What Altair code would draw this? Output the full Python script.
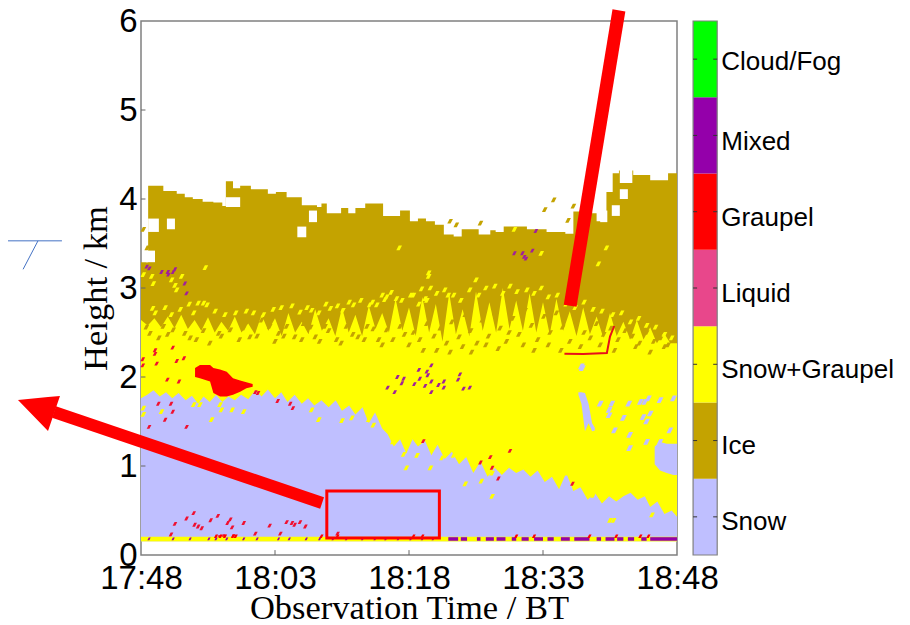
import altair as alt
import pandas as pd

# ---- axis labels / legend ----
time_ticks = [0, 15, 30, 45, 60]
time_labels = ['17:48', '18:03', '18:18', '18:33', '18:48']
height_ticks = [0, 1, 2, 3, 4, 5, 6]
classes = ['Snow', 'Ice', 'Snow+Graupel', 'Liquid', 'Graupel', 'Mixed', 'Cloud/Fog']
class_colors = ['#bfbfff', '#c4a300', '#ffff00', '#e8478b', '#ff0000', '#9400aa', '#00ff00']
label_h = [0.38, 1.24, 2.09, 2.94, 3.80, 4.65, 5.55]

# ---- region boundaries (minutes after 17:48, km) ----
ice_top_t = [0, 0.8, 2.5, 4.0, 4.9, 5.8, 6.9, 8.1, 9.1, 9.5, 10.3, 11.1, 12.3, 14.2, 15.1, 16.3, 18.0, 19.7, 20.2, 20.8,
             22.4, 23.2, 24.0, 25.1, 27.1, 29.0, 30.1, 31, 31.9, 32.9, 33.9, 35, 35.9, 37.8, 39.1, 39.7, 40.6, 43.2, 45.4,
             47.5, 48.4, 50.5, 51, 52.1, 52.8, 53.5, 55.1, 57, 59, 60]
ice_top_h = [3.29, 4.15, 4.09, 4.06, 4.02, 4.0, 3.97, 3.96, 3.92, 4.2, 4.12, 4.15, 4.11, 4.06, 4.08, 4.02, 3.93, 3.91, 3.95, 3.84,
             3.90, 3.84, 3.90, 3.95, 3.81, 3.87, 3.75, 3.78, 3.75, 3.71, 3.60, 3.58, 3.66, 3.60, 3.65, 3.63, 3.69, 3.66, 3.63,
             3.61, 3.86, 3.84, 3.75, 4.08, 4.29, 4.32, 4.27, 4.21, 4.29, 4.29]

# top of the Snow+Graupel region, read every 0.75 min
sg_top_h = [2.64, 2.58, 2.66, 2.56, 2.68, 2.55, 2.70, 2.54, 2.64, 2.52, 2.67, 2.50, 2.62, 2.52, 2.68, 2.50, 2.60, 2.48, 2.70, 2.52,
            2.66, 2.46, 2.72, 2.50, 2.62, 2.48, 2.76, 2.52, 2.66, 2.46, 2.78, 2.50, 2.70, 2.46, 2.80, 2.54, 2.72, 2.50, 2.88, 2.52,
            2.78, 2.46, 2.90, 2.50, 2.82, 2.40, 2.94, 2.48, 2.76, 2.46, 2.96, 2.52, 2.84, 2.50, 3.00, 2.54, 2.86, 2.52, 2.94, 2.50,
            2.84, 2.48, 2.88, 2.52, 2.74, 2.46, 2.78, 2.48, 2.68, 2.44, 2.72, 2.46, 2.62, 2.42, 2.64, 2.42, 2.56, 2.38, 2.50, 2.38, 2.38]
sg_top_t = [i * 0.75 for i in range(len(sg_top_h))]

snow_top_t = [0, 0.7, 1.4, 2.1, 2.8, 3.5, 4.2, 5, 5.7, 6.4, 7, 7.7, 8.4, 9.1, 9.8, 10.5, 11.2, 12, 12.8, 13.5, 14.2, 15, 15.7, 16.4,
              17.2, 18, 18.7, 19.4, 20.2, 21, 21.8, 22.5, 23.3, 24, 24.8, 25.5, 26.2, 27, 27.6, 28.3, 29, 29.7, 30.4, 31, 31.8, 32.5,
              33.2, 34, 34.8, 35.6, 36.4, 37.2, 38, 38.8, 39.6, 40.4, 41.2, 42, 42.8, 43.6, 44.4, 45.2, 46, 46.8, 47.6, 48.4, 49.2,
              50, 50.8, 51.6, 52.4, 53.2, 54, 54.8, 55.6, 56.4, 57, 57.8, 58.6, 59.4, 60]
snow_top_h = [1.76, 1.80, 1.85, 1.78, 1.83, 1.76, 1.82, 1.74, 1.79, 1.70, 1.78, 1.72, 1.80, 1.72, 1.78, 1.74, 1.80, 1.75, 1.85, 1.78, 1.86, 1.76, 1.83, 1.72,
              1.80, 1.70, 1.76, 1.68, 1.74, 1.66, 1.74, 1.62, 1.68, 1.58, 1.66, 1.48, 1.60, 1.42, 1.36, 1.22, 1.30, 1.14, 1.30, 1.22, 1.28, 1.12,
              1.24, 1.08, 1.16, 1.02, 1.10, 0.92, 1.05, 0.88, 0.98, 0.90, 0.98, 0.92, 0.96, 0.88, 0.95, 0.82, 0.88, 0.74, 0.92, 0.72, 0.76,
              0.62, 0.70, 0.58, 0.66, 0.60, 0.66, 0.70, 0.62, 0.66, 0.54, 0.60, 0.46, 0.50, 0.43]

# ---- blobs: time, low, high ----
graupel_blob_t = [6.05, 6.6, 7.73, 8.1, 8.85, 9.6, 10.3, 11.1, 11.8, 12.5]
graupel_blob_hi = [2.10, 2.135, 2.135, 2.10, 2.085, 2.06, 1.985, 1.96, 1.94, 1.92]
graupel_blob_lo = [2.00, 1.985, 1.95, 1.82, 1.78, 1.78, 1.80, 1.835, 1.875, 1.89]
snow_patch_a_t = [48.96, 49.3, 49.7, 50.1, 50.5, 50.8]
snow_patch_a_hi = [1.83, 1.83, 1.82, 1.70, 1.48, 1.43]
snow_patch_a_lo = [1.80, 1.70, 1.39, 1.48, 1.39, 1.40]
snow_patch_b_t = [57.5, 58.1, 58.85, 59.6, 60]
snow_patch_b_hi = [1.22, 1.27, 1.25, 1.25, 1.25]
snow_patch_b_lo = [1.02, 0.95, 0.92, 0.90, 0.90]

# gaps in the echo: t0, t1, h0, h1
gap_t0 = [0.8, 2.9, 17.5, 18.8, 0.56, 53.6, 52.7, 51.4, 53.6, 9.5]
gap_t1 = [2.0, 3.8, 18.5, 19.7, 1.57, 54.5, 53.6, 52.2, 55.0, 11.1]
gap_h0 = [3.63, 3.66, 3.57, 3.74, 3.29, 4.00, 3.81, 3.74, 4.18, 3.91]
gap_h1 = [3.78, 3.78, 3.69, 3.87, 3.42, 4.11, 3.93, 3.87, 4.33, 4.02]

# ---- small flecks ----
yellow_t = [0.26, 1.2, 1.38, 3.43, 3.8, 4.55, 4.0, 7.2, 1.3, 2.7, 6.4, 7.0, 5.4, 7.4, 27.5, 28.6, 27.3, 21.2, 22.6, 23.8, 25.6, 26.4,
            28.9, 13.7, 19.1, 17.8, 32.2, 32.2, 31.4, 32.4, 31.8, 34.4, 37.5, 44.8, 51.2, 52.1, 41.8, 30.5,
            1.6, 3.4, 4.4, 5.9, 8.3, 9.4, 10.6, 11.8, 12.6, 14.8, 15.7, 16.9, 18.6, 19.9, 20.7, 22, 23.3, 24.6, 25.9, 27, 28, 29.2,
            30.2, 31.1, 32, 33.1, 34, 35, 35.8, 36.8, 37.8, 38.6, 39.6, 40.5, 41.3, 42.1, 43.2, 44, 44.8, 45.6, 46.6, 47.6, 48.6,
            49.6, 50.6, 51.6, 52.8, 53.8, 54.8, 55.7, 56.6, 57.6, 58.6, 59.4]
yellow_h = [3.15, 3.13, 3.05, 3.09, 3.03, 3.13, 2.98, 3.23, 2.77, 2.78, 2.83, 2.83, 2.82, 2.81, 2.90, 2.88, 2.87, 2.77, 2.75, 2.81, 2.81, 2.81,
            3.45, 2.70, 2.75, 2.73, 3.17, 3.13, 2.99, 3.0, 2.88, 2.92, 3.09, 3.39, 3.27, 3.45, 3.66, 2.92,
            2.72, 2.70, 2.76, 2.72, 2.74, 2.70, 2.72, 2.74, 2.72, 2.76, 2.78, 2.80, 2.78, 2.72, 2.82, 2.80, 2.84, 2.86, 2.84, 2.92, 2.95, 2.86,
            2.92, 2.82, 2.86, 2.94, 2.98, 2.92, 2.86, 2.98, 2.92, 3.0, 3.02, 2.94, 3.02, 2.96, 2.98, 2.94, 3.0, 2.9, 2.92, 2.82, 2.78,
            2.84, 2.76, 2.74, 2.7, 2.72, 2.62, 2.66, 2.58, 2.56, 2.48, 2.44]
ice_fleck_t = [1.0, 2.5, 3.6, 4.9, 6.2, 7.7, 8.7, 10, 11.5, 12.2, 13.5, 14.4, 15.4, 16.3, 17.2, 18.2, 19.5, 20.6, 21.9, 23, 24.3, 25.3, 26.6, 27.5, 29,
               30.5, 31.2, 32, 32.8, 33.5, 34.2, 34.8, 35.6, 36.3, 36.9, 37.6, 38.2, 38.9, 39.6, 40.2, 40.9, 41.6, 42.3, 43, 43.7, 44.4, 45.1, 45.8,
               46.5, 47.2, 48, 48.8, 49.6, 50.3, 51, 51.8, 52.6, 53.4, 54.2, 55, 55.8, 56.6, 57.4, 58.2, 59,
               0.26, 0.7, 46.2, 45.2, 48.4, 47.8, 34.6, 35.3, 38.0,
               0.6, 2, 3, 5.5, 7, 9, 11, 13, 15, 16, 18, 19, 20, 21, 22.4, 23.7, 25, 26, 27, 28.2, 29.5, 30, 31.6, 33.1, 34.6, 36, 37, 38.6,
               40, 41.2, 42.8, 44, 45.6, 47, 49.2, 51.4, 53, 55.4, 57, 58.6]
ice_fleck_h = [2.49, 2.57, 2.53, 2.49, 2.42, 2.38, 2.49, 2.53, 2.55, 2.45, 2.64, 2.57, 2.49, 2.57, 2.45, 2.60, 2.45, 2.57, 2.42, 2.57, 2.45, 2.57, 2.42, 2.53, 2.57,
               2.50, 2.42, 2.60, 2.46, 2.55, 2.38, 2.62, 2.45, 2.70, 2.52, 2.38, 2.64, 2.46, 2.72, 2.55, 2.40, 2.66, 2.48, 2.75, 2.58, 2.42, 2.68, 2.50,
               2.72, 2.56, 2.40, 2.62, 2.50, 2.44, 2.60, 2.48, 2.55, 2.42, 2.52, 2.46, 2.38, 2.50, 2.40, 2.44, 2.36,
               3.66, 3.45, 3.99, 3.88, 3.92, 3.76, 3.75, 3.71, 3.73,
               2.56, 2.44, 2.48, 2.44, 2.52, 2.46, 2.42, 2.46, 2.40, 2.46, 2.42, 2.56, 2.40, 2.52, 2.38, 2.48, 2.42, 2.54, 2.36, 2.42, 2.48, 2.36, 2.30, 2.30, 2.28, 2.34, 2.28, 2.36,
               2.32, 2.50, 2.36, 2.30, 2.36, 2.30, 2.34, 2.36, 2.30, 2.34, 2.28, 2.34]
mixed_t = [0.64, 0.93, 2.3, 3.0, 3.6, 3.07, 3.8, 4.9, 5.1, 41.8, 42.7, 42.9, 43.1, 43.8, 44.2,
           32, 32.1, 31.1, 32.5, 31.2, 30.6, 31.8, 32.5, 32.5, 33.3, 33.9, 33.9, 35.5, 35.7, 36.1, 36.8, 28.7, 29.4, 29.2, 28.4, 27.6]
mixed_h = [3.24, 3.22, 3.18, 3.18, 3.18, 3.15, 3.21, 3.05, 2.94, 3.39, 3.39, 3.35, 3.33, 3.42, 3.64,
           2.06, 2.02, 2.08, 2.13, 1.98, 1.92, 1.90, 1.95, 1.83, 1.91, 1.95, 1.88, 1.97, 2.03, 1.87, 1.88, 2.0, 1.98, 1.93, 1.83, 1.88]
red_t = [1.57, 1.57, 3.55, 1.75, 4, 4.8, 0.2, 0.2, 2.95, 4.25, 1.94, 3.36, 3.55, 2.7, 0.9, 5.1, 12.8, 13.1, 15.3, 16.7, 17,
         5.9, 5.1, 3.8, 8.6, 7.8, 6, 6.4, 6.8, 10, 9.7, 10.2, 11.5, 14.4, 12.8, 3.36, 15.6, 16.3, 16.9, 17.2, 17.8, 18.4, 22,
         8.7, 9.2, 10.3, 31.6, 38, 39.1, 39.3, 40, 41.3, 48.3]
red_h = [2.30, 2.26, 2.33, 2.15, 2.18, 2.21, 2.13, 2.2, 1.97, 1.95, 1.70, 1.70, 1.61, 1.52, 1.44, 1.44, 1.83, 1.82, 1.73, 1.70, 1.65,
         0.47, 0.41, 0.35, 0.44, 0.39, 0.34, 0.32, 0.30, 0.40, 0.36, 0.31, 0.36, 0.33, 0.24, 0.23, 0.24, 0.37, 0.36, 0.34, 0.37, 0.32, 0.24,
         0.2, 0.21, 0.21, 1.28, 1.04, 1.10, 0.98, 0.86, 1.17, 0.80]
snow_fleck_t = [52.4, 52.4, 54, 52.7, 53, 54.7, 54.6, 55.9, 56.8, 56.4, 57, 56.6, 56.2, 58.1, 59.6, 59.2, 58.1, 54.7, 56.6, 51.4, 49.3, 49.4]
snow_fleck_h = [1.57, 1.63, 1.54, 1.70, 1.40, 1.35, 1.70, 1.72, 1.76, 1.72, 1.59, 1.50, 1.55, 1.74, 1.76, 1.40, 1.27, 1.20, 1.27, 1.70, 2.12, 2.10]
sg_fleck_t = [0.26, 0.26, 2.3, 5.9, 6.6, 9.0, 8.85, 10.2, 11.5, 7.9, 19.1, 19.9, 22.5, 23.6, 25.5, 26, 28.2, 29.4, 29.7,
              30.9, 32.4, 33.7, 35, 36.3, 38.1, 39.3, 39.3, 47.7, 47.7, 52.5, 52.9, 57.2, 50.6, 51.7, 52.5]
sg_fleck_h = [1.65, 1.58, 1.61, 1.69, 1.69, 1.63, 1.69, 1.63, 1.61, 1.52, 1.63, 1.52, 1.51, 1.54, 1.52, 1.46, 1.27, 1.13, 0.98,
              1.12, 0.98, 1.09, 1.12, 0.8, 0.83, 0.92, 0.66, 0.92, 1.0, 0.39, 0.39, 0.45, 0.67, 0.66, 0.69]

# ---- strip close to the ground ----
strip_low, strip_high = 0.155, 0.205
ground_mixed_t0 = [34.4, 35.8, 37.6, 38.6, 39.8, 41.5, 42.6, 44, 45.5, 47, 48.5, 51, 52, 53.3, 54.5, 56, 57]
ground_mixed_t1 = [35.5, 36.5, 38, 39.5, 40.8, 42, 43.4, 45, 46.2, 48, 50.2, 51.5, 53, 54, 55.2, 56.6, 60]
ground_fleck_t = [0.9, 3.6, 5.5, 7.6, 8.4, 9.6, 11.5, 13, 15.4, 16.6, 18.5, 20, 21.5, 23, 24.8, 26.2, 27.4, 28.8, 30.2, 31.5, 32.7]
ground_red_t = [20.2, 22, 30.5, 31.5, 42, 44, 50.2, 53.2, 55.9, 56.8, 8.4, 8.9, 9.4, 10.3, 10.6]

# ---- annotations drawn on top of the figure ----
arrow_a_t, arrow_a_h = [20.27, -9.74], [0.584, 1.607]
head_t, head_hi, head_lo = [-13.77, -10.41, -9.07], [1.742, 1.774, 1.787], [1.742, 1.393, 1.787]
arrow_b_t, arrow_b_h = [48.04, 53.5], [2.80, 6.12]
box_t, box_h = [20.8, 33.4], [0.19, 0.72]
trace_t, trace_h = [47.4, 49.5, 52.15, 52.5, 52.97], [2.262, 2.258, 2.27, 2.455, 2.573]
blue_a_t, blue_a_h = [-14.9, -8.85], [3.53, 3.53]
blue_b_t, blue_b_h = [-11.53, -13.2], [3.53, 3.21]

# colour-bar position in the same units
bar_t0, bar_t1 = 61.8, 64.5
label_t = 64.95

X = alt.Scale(domain=[0, 60], nice=False, zero=False)
Y = alt.Scale(domain=[0, 6], nice=False, zero=False)
SANS, SERIF = 'Liberation Sans', 'Liberation Serif'
x_axis = alt.Axis(values=time_ticks, grid=False, ticks=False, domain=False,
                  labelExpr="%s[datum.value/15]" % time_labels,
                  labelFont=SANS, labelFontSize=33, labelColor='black', labelPadding=7, labelFlush=False,
                  labelOverlap=False,
                  title='Observation Time / BT', titleFont=SERIF, titleFontSize=34.5, titleFontWeight='normal',
                  titleColor='black', titlePadding=-4)
y_axis = alt.Axis(values=height_ticks, grid=False, ticks=False, domain=False,
                  labelFont=SANS, labelFontSize=33, labelColor='black', labelPadding=4, labelFlush=False,
                  labelOverlap=False, format='d',
                  title='Height / km', titleFont=SERIF, titleFontSize=34.5, titleFontWeight='normal',
                  titleColor='black', titlePadding=5)


def xf(field='t'):
    return alt.X(f'{field}:Q', scale=X, axis=x_axis)


def yf(field='h'):
    return alt.Y(f'{field}:Q', scale=Y, axis=y_axis)


x_, y_ = xf(), yf()


def area(t, hi, lo, color, interp='linear'):
    d = pd.DataFrame({'t': t, 'h': hi, 'h2': lo})
    return alt.Chart(d).mark_area(color=color, interpolate=interp, clip=False).encode(x=x_, y=y_, y2='h2:Q')


def flecks(t, h, color, size=36):
    d = pd.DataFrame({'t': t, 'h': h})
    return alt.Chart(d).mark_point(shape='M-0.6,0.5L0.1,0.5L0.6,-0.5L-0.1,-0.5Z', filled=True, opacity=1,
                                   color=color, size=size, strokeWidth=0).encode(x=x_, y=y_)


def rects(t0, t1, h0, h1, color):
    d = pd.DataFrame({'t': t0, 't2': t1, 'h': h0, 'h2': h1})
    return alt.Chart(d).mark_rect(color=color).encode(x=x_, x2='t2:Q', y=y_, y2='h2:Q')


def line(t, h, color, width):
    d = pd.DataFrame({'t': t, 'h': h, 'o': list(range(len(t)))})
    return alt.Chart(d).mark_line(color=color, strokeWidth=width, strokeCap='butt', interpolate='linear').encode(
        x=x_, y=y_, order='o:Q')


C = dict(zip(classes, class_colors))
n = len(classes)
bar = pd.DataFrame({'name': classes, 'color': class_colors,
                    'h': [i * 6 / n for i in range(n)], 'h2': [(i + 1) * 6 / n for i in range(n)],
                    'mid': [(i + 0.5) * 6 / n for i in range(n)], 't': [bar_t0] * n, 't2': [bar_t1] * n,
                    'lab': [label_t] * n, 'lab_h': label_h})

layers = [
    # regions
    area(ice_top_t, ice_top_h, [2.2] * len(ice_top_t), C['Ice'], 'step-after'),
    rects(gap_t0, gap_t1, gap_h0, gap_h1, 'white'),
    area(sg_top_t, sg_top_h, [strip_low] * len(sg_top_t), C['Snow+Graupel']),
    flecks(ice_fleck_t, ice_fleck_h, C['Ice'], 90),
    flecks(yellow_t, yellow_h, C['Snow+Graupel'], 90),
    area(snow_top_t, snow_top_h, [strip_low] * len(snow_top_t), C['Snow']),
    area(snow_patch_a_t, snow_patch_a_hi, snow_patch_a_lo, C['Snow']),
    area(snow_patch_b_t, snow_patch_b_hi, snow_patch_b_lo, C['Snow']),
    flecks(snow_fleck_t, snow_fleck_h, C['Snow'], 130),
    flecks(sg_fleck_t, sg_fleck_h, C['Snow+Graupel'], 90),
    area(graupel_blob_t, graupel_blob_hi, graupel_blob_lo, C['Graupel']),
    flecks(mixed_t, mixed_h, '#a0209a', 60),
    flecks(red_t, red_h, '#f01030', 60),
    # ground strip
    rects([0], [60], [strip_low], [strip_high], C['Snow+Graupel']),
    rects(ground_mixed_t0, ground_mixed_t1, [0.16] * len(ground_mixed_t0), [0.2] * len(ground_mixed_t0), C['Mixed']),
    flecks(ground_fleck_t, [0.18] * len(ground_fleck_t), C['Mixed'], 30),
    flecks(ground_red_t, [0.21] * len(ground_red_t), C['Graupel'], 50),
    # inner ticks
    alt.Chart(pd.DataFrame({'t': time_ticks[1:-1], 'h': [0] * 3, 'h2': [0.055] * 3})).mark_rule(color='#666666', strokeWidth=1).encode(x=x_, y=y_, y2='h2:Q'),
    alt.Chart(pd.DataFrame({'t': [0] * 5, 't2': [0.5] * 5, 'h': height_ticks[1:-1]})).mark_rule(color='#666666', strokeWidth=1).encode(x=x_, x2='t2:Q', y=y_),
    # colour bar
    alt.Chart(bar).mark_rect().encode(x=x_, x2='t2:Q', y=y_, y2='h2:Q', color=alt.Color('color:N', scale=None)),
    alt.Chart(pd.DataFrame({'t': [bar_t0], 't2': [bar_t1], 'h': [0], 'h2': [6]})).mark_rect(fill=None, fillOpacity=0, stroke='#808080', strokeWidth=1.2).encode(x=x_, x2='t2:Q', y=y_, y2='h2:Q'),
    alt.Chart(bar).mark_rule(color='#333333', strokeWidth=1).encode(x=x_, x2=alt.datum(bar_t0 + 0.45), y=yf('mid')),
    alt.Chart(bar).mark_rule(color='#333333', strokeWidth=1).encode(x=xf('t2'), x2=alt.datum(bar_t1 - 0.45), y=yf('mid')),
    alt.Chart(bar).mark_text(align='left', baseline='middle', font=SANS, fontSize=26, color='black', dy=1).encode(
        x=xf('lab'), y=yf('lab_h'), text='name:N'),
    # annotations
    line(arrow_a_t, arrow_a_h, '#ff0000', 12),
    area(head_t, head_hi, head_lo, '#ff0000'),
    line(arrow_b_t, arrow_b_h, '#ff0000', 13),
    alt.Chart(pd.DataFrame({'t': [box_t[0]], 't2': [box_t[1]], 'h': [box_h[0]], 'h2': [box_h[1]]})).mark_rect(
        fill=None, fillOpacity=0, stroke='#ff0000', strokeWidth=3).encode(x=x_, x2='t2:Q', y=y_, y2='h2:Q'),
    line(trace_t, trace_h, '#e8101a', 2),
    line(blue_a_t, blue_a_h, '#4472c4', 1),
    line(blue_b_t, blue_b_h, '#4472c4', 1),
]

chart = alt.layer(*layers).properties(
    width=536, height=534,
    autosize=alt.AutoSizeParams(type='none'),
    padding={'left': 133, 'top': 13, 'right': 225, 'bottom': 70},
    background='white',
).configure_view(stroke='#808080', strokeWidth=1.5)

chart.save("out.html", embed_options={"renderer": "svg", "actions": False})
